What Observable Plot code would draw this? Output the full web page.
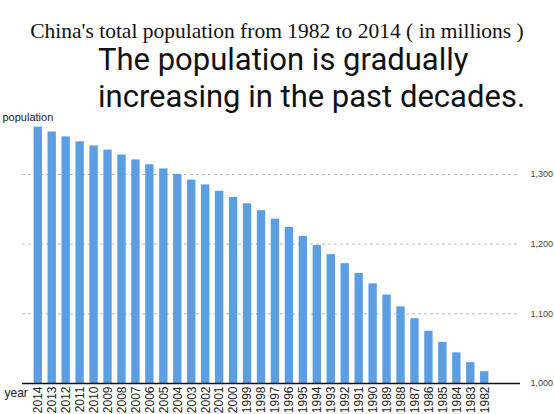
<!DOCTYPE html>
<html>
<head>
<meta charset="utf-8">
<script src="https://cdn.jsdelivr.net/npm/d3@7"></script>
<script src="https://cdn.jsdelivr.net/npm/@observablehq/plot@0.6"></script>
<style>
  html, body { margin: 0; padding: 0; background: #fff; }
  body { width: 554px; height: 414px; overflow: hidden; }
  #title { padding-top: 20px; height: 21px; font-family: "Liberation Serif", "DejaVu Serif", serif; font-size: 21.5px; line-height: 22px; color: #111; text-align: center; white-space: nowrap; }
  #subtitle { height: 67px; padding-left: 98px; font-family: Roboto, "Noto Sans", sans-serif; font-size: 31px; line-height: 37px; color: #111; white-space: nowrap; overflow: visible; }
  #chart { position: relative; }
</style>
</head>
<body>
<div id="title">China's total population from 1982 to 2014 ( in millions )</div>
<div id="subtitle">The population is gradually<br>increasing in the past decades.</div>
<div id="chart"></div>
<script>
const years = ["2014","2013","2012","2011","2010","2009","2008","2007","2006","2005","2004","2003","2002","2001","2000","1999","1998","1997","1996","1995","1994","1993","1992","1991","1990","1989","1988","1987","1986","1985","1984","1983","1982"];
const population = [1368,1361,1354,1347,1341,1335,1328,1321,1314,1308,1300,1292,1285,1276,1267,1258,1248,1236,1224,1211,1198,1185,1172,1158,1143,1127,1110,1093,1075,1059,1044,1030,1017];
const yTicks = [1000, 1100, 1200, 1300];

const data = years.map((y, i) => ({year: y, value: population[i]}));

const chart = Plot.plot({
  width: 554,
  height: 306,
  marginLeft: 22,
  marginRight: 34,
  marginTop: 10,
  marginBottom: 31,
  style: {fontFamily: "Liberation Sans, Arial, sans-serif", background: "transparent"},
  x: {domain: years, range: [28, 494], paddingInner: 0.4, paddingOuter: 0.4},
  y: {domain: [1000, 1300], range: [275, 66]},
  marks: [
    Plot.gridY(yTicks.slice(1), {stroke: "#aaa", strokeOpacity: 0.8, strokeDasharray: "3,3"}),
    Plot.barY(data, {x: "year", y1: 1000, y2: "value", fill: "#5b9fe2"}),
    Plot.ruleY([1000], {stroke: "#111", strokeWidth: 1.5}),
    Plot.axisY(yTicks, {anchor: "right", tickSize: 0, tickPadding: 10, tickFormat: d3.format(","), fontSize: 9, fill: "#444", label: null}),
    Plot.axisX({tickRotate: -90, tickSize: 0, tickPadding: 3, fontSize: 12, fill: "#222", label: null}),
    Plot.text(["population"], {frameAnchor: "top-left", dx: -20, dy: 2, textAnchor: "start", lineAnchor: "bottom", fontSize: 11, fill: "#222"}),
    Plot.text(["year"], {frameAnchor: "bottom-left", dx: -18, dy: 5, textAnchor: "start", lineAnchor: "top", fontSize: 12, fill: "#222"})
  ]
});
document.getElementById("chart").appendChild(chart);
</script>
</body>
</html>
